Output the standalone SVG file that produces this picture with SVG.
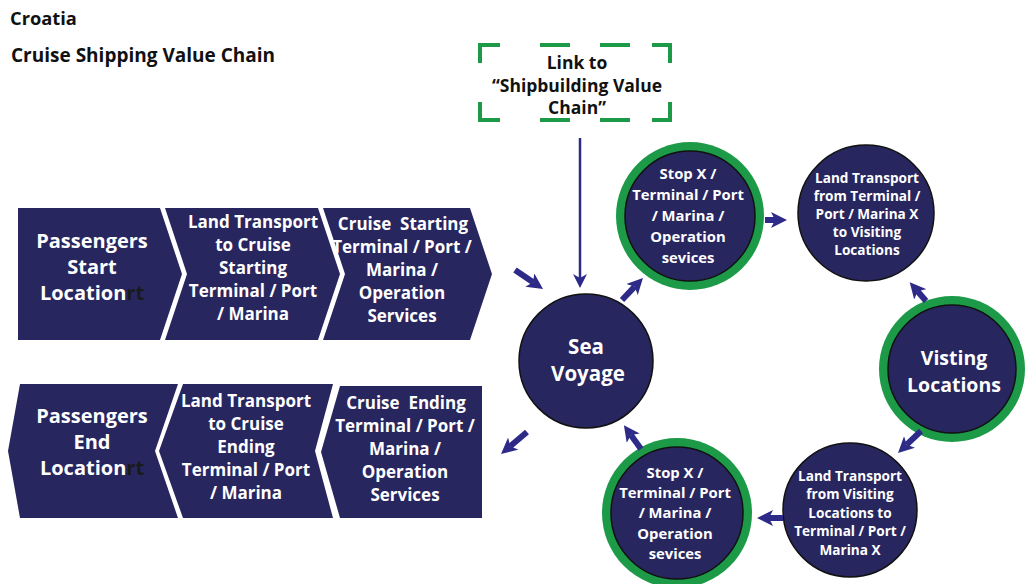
<svg xmlns="http://www.w3.org/2000/svg" width="1025" height="584" viewBox="0 0 1025 584">
<style>
.bg{fill:#ffffff}
.chev{fill:#28265f}
.cir{fill:#28265f;stroke:#111111;stroke-width:1.5}
.ring{fill:#1c9a48}
.t{font-family:"Open Sans",Lato,"Liberation Sans",sans-serif;font-weight:700;fill:#ffffff;text-anchor:middle;dominant-baseline:central}
.dk{fill:#1a1a1a}
.title{font-family:"Open Sans",Lato,"Liberation Sans",sans-serif;font-weight:700;fill:#111111}
.lk{font-family:"Open Sans",Lato,"Liberation Sans",sans-serif;font-weight:700;fill:#111111;text-anchor:middle;dominant-baseline:central;font-size:17.5px}
.dash{fill:none;stroke:#1c9a48;stroke-width:4}
.arr{stroke:#2e2a88;stroke-width:6;fill:none;marker-end:url(#ah)}
.arrt{stroke:#2e2a88;stroke-width:2.5;fill:none;marker-end:url(#aht)}
</style>
<defs>
<marker id="ah" viewBox="0 0 16 16" refX="4" refY="8" markerWidth="16" markerHeight="16" markerUnits="userSpaceOnUse" orient="auto">
<path d="M0,0 L16,8 L0,16 L4,8 Z" fill="#2e2a88"/>
</marker>
<marker id="aht" viewBox="0 0 14 14" refX="4" refY="7" markerWidth="14" markerHeight="14" markerUnits="userSpaceOnUse" orient="auto">
<path d="M0,0 L14,7 L0,14 L4,7 Z" fill="#2e2a88"/>
</marker>
</defs>
<rect class="bg" x="0" y="0" width="1025" height="584"/>

<g id="title">
<text class="title" x="10" y="25" font-size="18.3">Croatia</text>
<text class="title" x="11" y="62" font-size="19">Cruise Shipping Value Chain</text>
</g>

<g id="link-box">
<path class="dash" d="M480,63 L480,45 L500,45"/>
<path class="dash" d="M540,45 L570,45 M600,45 L630,45"/>
<path class="dash" d="M652,45 L670,45 L670,63"/>
<path class="dash" d="M480,102 L480,120 L500,120"/>
<path class="dash" d="M540,120 L570,120 M600,120 L630,120"/>
<path class="dash" d="M652,120 L670,120 L670,102"/>
<text class="lk" x="577" y="62">Link to</text>
<text class="lk" x="577" y="85">“Shipbuilding Value</text>
<text class="lk" x="577" y="107">Chain”</text>
</g>

<g id="passengers-start">
<path class="chev" d="M18,208 L160,208 L182,274 L160,340 L18,340 Z"/>
<text class="t" font-size="20"><tspan x="92" y="240">Passengers</tspan><tspan x="92" y="266">Start</tspan><tspan x="92" y="292">Location<tspan class="dk">rt</tspan></tspan></text>
</g>
<g id="land-transport-start">
<path class="chev" d="M165,208 L318,208 L340,274 L318,340 L165,340 L187,274 Z"/>
<text class="t" font-size="17"><tspan x="253" y="221">Land Transport</tspan><tspan x="253" y="244">to Cruise</tspan><tspan x="253" y="267">Starting</tspan><tspan x="253" y="290">Terminal / Port</tspan><tspan x="253" y="313">/ Marina</tspan></text>
</g>
<g id="cruise-starting-terminal">
<path class="chev" d="M323,208 L470,208 L492,274 L470,340 L323,340 L345,274 Z"/>
<text class="t" font-size="17" xml:space="preserve"><tspan x="403" y="223">Cruise  Starting</tspan><tspan x="402" y="246">Terminal / Port /</tspan><tspan x="402" y="269">Marina /</tspan><tspan x="402" y="292">Operation</tspan><tspan x="402" y="315">Services</tspan></text>
</g>

<g id="passengers-end">
<path class="chev" d="M20,384 L178,384 L155,451 L178,518 L20,518 L8,451 Z"/>
<text class="t" font-size="20"><tspan x="92" y="415">Passengers</tspan><tspan x="92" y="441">End</tspan><tspan x="92" y="467">Location<tspan class="dk">rt</tspan></tspan></text>
</g>
<g id="land-transport-end">
<path class="chev" d="M183,384 L333,384 L315,451 L333,518 L183,518 L159,451 Z"/>
<text class="t" font-size="17"><tspan x="246" y="400">Land Transport</tspan><tspan x="246" y="423">to Cruise</tspan><tspan x="246" y="446">Ending</tspan><tspan x="246" y="469">Terminal / Port</tspan><tspan x="246" y="492">/ Marina</tspan></text>
</g>
<g id="cruise-ending-terminal">
<path class="chev" d="M340,386 L482,386 L482,518 L340,518 L321,452 Z"/>
<text class="t" font-size="17" xml:space="preserve"><tspan x="406" y="402">Cruise  Ending</tspan><tspan x="405" y="425">Terminal / Port /</tspan><tspan x="405" y="448">Marina /</tspan><tspan x="405" y="471">Operation</tspan><tspan x="405" y="494">Services</tspan></text>
</g>

<g id="sea-voyage">
<circle class="cir" cx="586" cy="361" r="67"/>
<text class="t" font-size="20.5"><tspan x="586" y="346">Sea</tspan><tspan x="588" y="373">Voyage</tspan></text>
</g>

<g id="stop-x-top">
<circle class="ring" cx="690" cy="216" r="74"/>
<circle class="cir" cx="690" cy="216" r="65"/>
<text class="t" font-size="14.8"><tspan x="688" y="173">Stop X /</tspan><tspan x="688" y="194">Terminal / Port</tspan><tspan x="688" y="215">/ Marina /</tspan><tspan x="688" y="236">Operation</tspan><tspan x="688" y="257">sevices</tspan></text>
</g>

<g id="land-transport-to-visiting">
<circle class="cir" cx="866" cy="213" r="68"/>
<text class="t" font-size="13.6"><tspan x="867" y="177">Land Transport</tspan><tspan x="867" y="195">from Terminal /</tspan><tspan x="867" y="213">Port / Marina X</tspan><tspan x="867" y="231">to Visiting</tspan><tspan x="867" y="249">Locations</tspan></text>
</g>

<g id="visiting-locations">
<circle class="ring" cx="952" cy="369" r="73"/>
<circle class="cir" cx="952" cy="369" r="64"/>
<text class="t" font-size="19.5"><tspan x="954" y="357">Visting</tspan><tspan x="954" y="384">Locations</tspan></text>
</g>

<g id="land-transport-from-visiting">
<circle class="cir" cx="850" cy="510" r="67"/>
<text class="t" font-size="13.6"><tspan x="850" y="475">Land Transport</tspan><tspan x="850" y="493">from Visiting</tspan><tspan x="850" y="512">Locations to</tspan><tspan x="850" y="530">Terminal / Port /</tspan><tspan x="850" y="549">Marina X</tspan></text>
</g>

<g id="stop-x-bottom">
<circle class="ring" cx="677" cy="513" r="75"/>
<circle class="cir" cx="677" cy="513" r="66"/>
<text class="t" font-size="14.8"><tspan x="675" y="472">Stop X /</tspan><tspan x="675" y="492">Terminal / Port</tspan><tspan x="675" y="512">/ Marina /</tspan><tspan x="675" y="533">Operation</tspan><tspan x="675" y="553">sevices</tspan></text>
</g>

<g id="connectors">
<line class="arrt" x1="580" y1="138" x2="580" y2="278"/>
<line class="arr" x1="515" y1="270" x2="533.1" y2="282.3"/>
<line class="arr" x1="622" y1="300" x2="634.7" y2="286.6"/>
<line class="arr" x1="765" y1="220" x2="775" y2="220"/>
<line class="arr" x1="926" y1="301" x2="917.6" y2="291.3"/>
<line class="arr" x1="921" y1="431" x2="906.7" y2="444.7"/>
<line class="arr" x1="783" y1="518" x2="769" y2="518"/>
<line class="arr" x1="641" y1="449" x2="630.9" y2="434.9"/>
<line class="arr" x1="527" y1="432" x2="510.2" y2="446.2"/>
</g>
</svg>
